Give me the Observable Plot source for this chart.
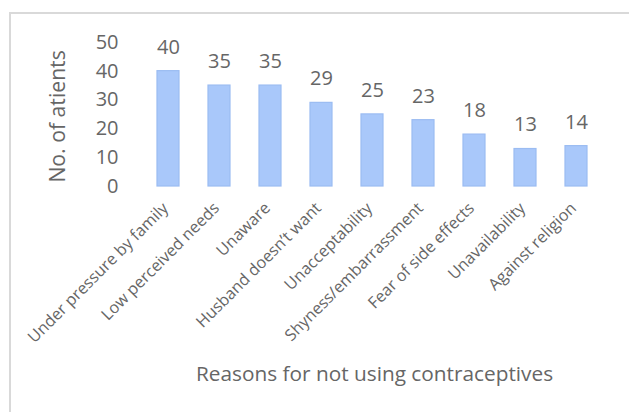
<!DOCTYPE html>
<html>
<head>
<meta charset="utf-8">
<script src="https://cdn.jsdelivr.net/npm/d3@7"></script>
<script src="https://cdn.jsdelivr.net/npm/@observablehq/plot@0.6"></script>
<style>
  html, body { margin: 0; padding: 0; background: #fff; }
  #wrap { position: relative; width: 629px; height: 412px; overflow: hidden; }
  #frame { position: absolute; left: 9px; top: 12px; width: 700px; height: 500px;
           border-left: 2px solid #d9d9d9; border-top: 2px solid #d9d9d9; box-sizing: border-box; }
  #chart { position: absolute; left: 0; top: 0; }
</style>
</head>
<body>
<div id="wrap"><div id="frame"></div><div id="chart"></div></div>
<script>
const categories = [
  "Under pressure by family",
  "Low perceived needs",
  "Unaware",
  "Husband doesn\u2019t want",
  "Unacceptability",
  "Shyness/embarrassment",
  "Fear of side effects",
  "Unavailability",
  "Against religion"
];
const values = [40, 35, 35, 29, 25, 23, 18, 13, 14];
const yTicks = [0, 10, 20, 30, 40, 50];
const xTitle = "Reasons for not using contraceptives";
const yTitle = "No. of atients";

const data = categories.map((c, i) => ({category: c, value: values[i]}));
const grey = "#666666";
const font = "'Open Sans', 'Noto Sans', sans-serif";

const plot = Plot.plot({
  width: 629,
  height: 412,
  marginTop: 41.8,
  marginBottom: 226,
  marginLeft: 155,
  marginRight: 40,
  style: {fontFamily: font, background: "transparent", overflow: "visible"},
  x: {domain: categories, paddingInner: 0.573, paddingOuter: 0},
  y: {domain: [0, 50]},
  marks: [
    Plot.barY(data, {x: "category", y: "value", fill: "#a9c8fa", stroke: "#9bbcf2", strokeWidth: 1.2}),
    Plot.text(data, {x: "category", y: "value", text: d => String(d.value), dy: -24,
      fill: grey, fontSize: 20}),
    Plot.axisY({ticks: yTicks, tickSize: 0, tickPadding: 37, fontSize: 20, color: grey, label: null}),
    Plot.axisX({tickSize: 0, tickRotate: -45, tickPadding: 19, dx: -3, fontSize: 16.2, color: grey, label: null}),
    Plot.text([xTitle], {frameAnchor: "bottom", textAnchor: "middle", lineAnchor: "middle",
      dy: 188, dx: 2, text: d => d, fill: grey, fontSize: 20.8}),
    Plot.text([yTitle], {frameAnchor: "left", textAnchor: "middle", lineAnchor: "middle",
      dx: -97, dy: 2, rotate: -90, text: d => d, fill: grey, fontSize: 21.2})
  ]
});
document.getElementById("chart").appendChild(plot);
</script>
</body>
</html>
